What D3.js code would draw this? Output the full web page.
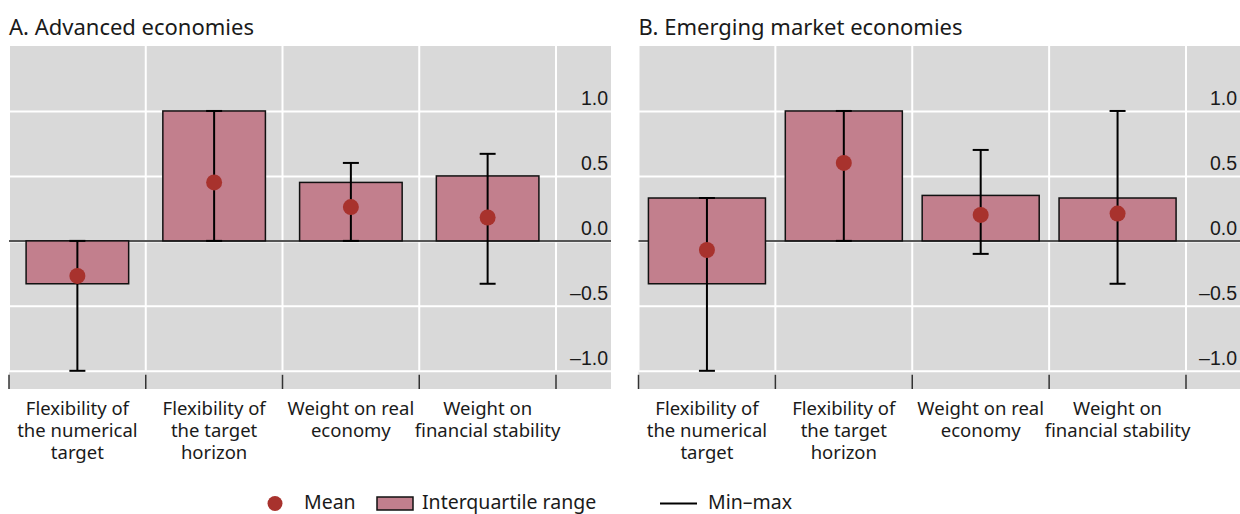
<!DOCTYPE html>
<html>
<head>
<meta charset="utf-8">
<script src="https://cdn.jsdelivr.net/npm/d3@7"></script>
<style>
  html, body { margin: 0; padding: 0; background: #fff; }
  svg { display: block; font-family: "Noto Sans", "Open Sans", sans-serif; }
</style>
</head>
<body>
<svg id="chart" width="1240" height="514"></svg>
<script>
// Categories (multi-line labels)
const categories = [
  "Flexibility of|the numerical|target",
  "Flexibility of|the target|horizon",
  "Weight on real|economy",
  "Weight on|financial stability"
];

// Panel A: advanced economies
const advIqrLow  = [-0.33, 0, 0, 0];
const advIqrHigh = [0, 1.0, 0.45, 0.5];
const advMin     = [-1.0, 0, 0, -0.33];
const advMax     = [0, 1.0, 0.6, 0.67];
const advMean    = [-0.27, 0.45, 0.26, 0.18];

// Panel B: emerging market economies
const emeIqrLow  = [-0.33, 0, 0, 0];
const emeIqrHigh = [0.33, 1.0, 0.35, 0.33];
const emeMin     = [-1.0, 0, -0.1, -0.33];
const emeMax     = [0.33, 1.0, 0.7, 1.0];
const emeMean    = [-0.07, 0.6, 0.2, 0.21];

const yTicks = [-1.0, -0.5, 0.0, 0.5, 1.0];
const yTickLabels = ["–1.0", "–0.5", "0.0", "0.5", "1.0"];

const panels = [
  { title: "A. Advanced economies", left: 9, catRight: 556, right: 611, barFrac: 0.75,
    low: advIqrLow, high: advIqrHigh, min: advMin, max: advMax, mean: advMean },
  { title: "B. Emerging market economies", left: 638.5, catRight: 1186, right: 1240, barFrac: 0.855,
    low: emeIqrLow, high: emeIqrHigh, min: emeMin, max: emeMax, mean: emeMean }
];

const C = {
  bg: "#d9d9d9",
  bar: "#c27f8d",
  mean: "#a8322d",
  zero: "#555555",
  text: "#1a1a1a"
};

const plotTop = 46, plotBottom = 389;
const y = d3.scaleLinear().domain([-1.14, 1.5]).range([plotBottom, plotTop]);

const svg = d3.select("#chart");

panels.forEach(p => {
  const g = svg.append("g");
  const x = d3.scaleBand().domain(d3.range(categories.length)).range([p.left, p.catRight]).padding(0);
  const bw = x.bandwidth() * p.barFrac;
  const cx = i => x(i) + x.bandwidth() / 2;

  // title
  g.append("text").attr("x", p.left).attr("y", 35)
    .attr("font-size", 22).attr("fill", C.text).text(p.title);

  // panel background
  g.append("rect").attr("x", p.left).attr("y", plotTop)
    .attr("width", p.right - p.left).attr("height", plotBottom - plotTop).attr("fill", C.bg);

  // horizontal gridlines + right-side tick labels
  const yAxis = d3.axisRight(y).tickValues(yTicks)
    .tickSize(p.right - p.left).tickFormat((d, i) => yTickLabels[i]);
  const ya = g.append("g").attr("transform", `translate(${p.left},0)`).call(yAxis);
  ya.select(".domain").remove();
  ya.selectAll(".tick line").attr("stroke", "#fff").attr("stroke-width", 2);
  ya.selectAll(".tick text")
    .attr("x", p.right - p.left - 3).attr("dy", -6)
    .attr("text-anchor", "end").attr("font-size", 19.5).attr("fill", C.text)
    .attr("font-family", null);

  // vertical gridlines at category boundaries
  const bounds = d3.range(categories.length + 1).map(i => p.left + i * x.bandwidth());
  g.selectAll(".vgrid").data(bounds).join("line")
    .attr("x1", d => d).attr("x2", d => d)
    .attr("y1", plotTop).attr("y2", y(-1.0))
    .attr("stroke", "#fff").attr("stroke-width", 2);

  // bottom ticks
  g.selectAll(".btick").data(bounds).join("line")
    .attr("x1", d => d).attr("x2", d => d)
    .attr("y1", y(-1.0) + 4).attr("y2", plotBottom)
    .attr("stroke", "#333").attr("stroke-width", 1.5);

  // zero line
  g.append("line").attr("x1", p.left).attr("x2", p.right)
    .attr("y1", y(0)).attr("y2", y(0))
    .attr("stroke", C.zero).attr("stroke-width", 2);

  // interquartile range bars
  g.selectAll(".iqr").data(categories).join("rect")
    .attr("x", (d, i) => cx(i) - bw / 2)
    .attr("y", (d, i) => y(p.high[i]))
    .attr("width", bw)
    .attr("height", (d, i) => y(p.low[i]) - y(p.high[i]))
    .attr("fill", C.bar).attr("stroke", "#111").attr("stroke-width", 1.5);

  // min–max whiskers
  const capW = 16;
  const wg = g.selectAll(".wh").data(categories).join("g");
  wg.append("line")
    .attr("x1", (d, i) => cx(i)).attr("x2", (d, i) => cx(i))
    .attr("y1", (d, i) => y(p.min[i])).attr("y2", (d, i) => y(p.max[i]))
    .attr("stroke", "#000").attr("stroke-width", 2);
  wg.append("line")
    .attr("x1", (d, i) => cx(i) - capW / 2).attr("x2", (d, i) => cx(i) + capW / 2)
    .attr("y1", (d, i) => y(p.min[i])).attr("y2", (d, i) => y(p.min[i]))
    .attr("stroke", "#000").attr("stroke-width", 2);
  wg.append("line")
    .attr("x1", (d, i) => cx(i) - capW / 2).attr("x2", (d, i) => cx(i) + capW / 2)
    .attr("y1", (d, i) => y(p.max[i])).attr("y2", (d, i) => y(p.max[i]))
    .attr("stroke", "#000").attr("stroke-width", 2);

  // means
  g.selectAll(".mean").data(categories).join("circle")
    .attr("cx", (d, i) => cx(i)).attr("cy", (d, i) => y(p.mean[i]))
    .attr("r", 8).attr("fill", C.mean);

  // category labels
  g.selectAll(".cat").data(categories).join("text")
    .attr("x", (d, i) => cx(i)).attr("y", 415)
    .attr("text-anchor", "middle").attr("font-size", 18.5).attr("fill", C.text)
    .each(function(d) {
      const t = d3.select(this);
      d.split("|").forEach((line, k) => {
        t.append("tspan").attr("x", t.attr("x")).attr("dy", k === 0 ? 0 : 22).text(line);
      });
    });
});

// legend
const lg = svg.append("g").attr("font-size", 19.5).attr("fill", C.text);
lg.append("circle").attr("cx", 275).attr("cy", 503.5).attr("r", 7.5).attr("fill", C.mean);
lg.append("text").attr("x", 304).attr("y", 509).text("Mean");
lg.append("rect").attr("x", 377).attr("y", 497).attr("width", 36).attr("height", 13)
  .attr("fill", C.bar).attr("stroke", "#111").attr("stroke-width", 1.5);
lg.append("text").attr("x", 422).attr("y", 509).text("Interquartile range");
lg.append("line").attr("x1", 660).attr("x2", 697).attr("y1", 503.5).attr("y2", 503.5)
  .attr("stroke", "#000").attr("stroke-width", 2);
lg.append("text").attr("x", 708).attr("y", 509).text("Min–max");
</script>
</body>
</html>
